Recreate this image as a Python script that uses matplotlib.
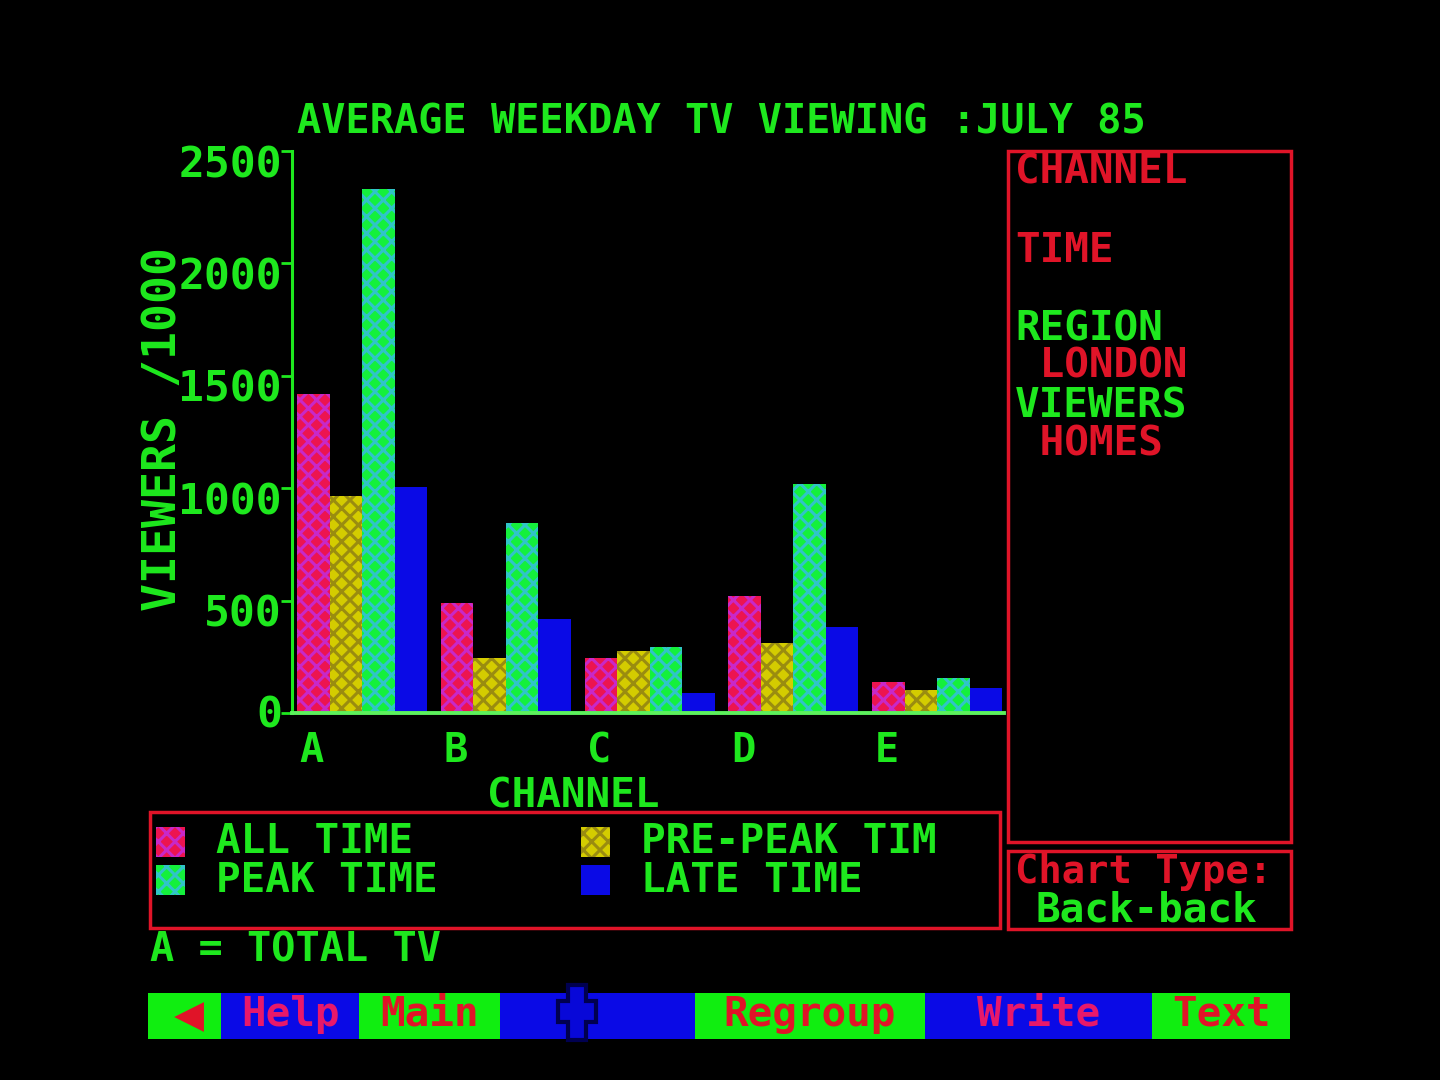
import matplotlib
matplotlib.use("Agg")
import matplotlib.pyplot as plt
from matplotlib.patches import Rectangle, Polygon
from matplotlib.transforms import ScaledTranslation

# ---------------- data ----------------
channels = ["A", "B", "C", "D", "E"]
all_time = [1420, 488, 243, 520, 139]
pre_peak = [967, 243, 277, 310, 102]
peak_time = [2331, 845, 292, 1017, 154]
late_time = [1007, 417, 90, 381, 110]
series_names = ["ALL TIME", "PRE-PEAK TIM", "PEAK TIME", "LATE TIME"]
yticks = [0, 500, 1000, 1500, 2000, 2500]
ytick_labels = ["0", "500", "1000", "1500", "2000", "2500"]
title = "AVERAGE WEEKDAY TV VIEWING :JULY 85"
menu_labels = ["\u25C0", "Help", "Main", "", "Regroup", "Write", "Text"]

# ---------------- style ----------------
W, H = 1440, 1080
GREEN = "#1ee81e"
RED = "#e01428"
PINK = "#e8186a"
BLUE = "#0a0ae6"
MENU_GREEN = "#10ee10"
FONT = ["DejaVu Sans Mono", "DejaVu Sans"]

plt.rcParams["hatch.linewidth"] = 2.2
plt.rcParams["font.family"] = FONT

styles = [
    dict(face="#ec1450", hatch="xx", hcol="#c828c8"),   # all time
    dict(face="#d4cc00", hatch="xx", hcol="#9a8c10"),   # pre-peak
    dict(face="#14f03c", hatch="xx", hcol="#30c4c8"),   # peak
    dict(face=BLUE, hatch=None, hcol=BLUE),             # late
]

fig = plt.figure(figsize=(W / 100, H / 100), dpi=100, facecolor="black")


def fx(x):
    return x / W


def fy(y):
    return 1 - y / H


def ftext(x, ybase, s, color, size, ha="left", weight="bold", **kw):
    fig.text(fx(x), fy(ybase), s, color=color, fontsize=size, ha=ha,
             va="baseline", fontweight=weight, family=FONT, **kw)


def frect(x0, y0, x1, y1, **kw):
    r = Rectangle((fx(x0), fy(y1)), fx(x1) - fx(x0), fy(y0) - fy(y1),
                  transform=fig.transFigure, **kw)
    fig.add_artist(r)
    return r


# ---------------- axes ----------------
ax_l, ax_r, ax_t, ax_b = 292, 1004, 151, 713
ax = fig.add_axes([fx(ax_l), fy(ax_b), fx(ax_r) - fx(ax_l), fy(ax_t) - fy(ax_b)])
ax.set_facecolor("black")

group_px = 143.75
bar_w = 32.5 / group_px
series = [all_time, pre_peak, peak_time, late_time]
for j, (vals, st) in enumerate(zip(series, styles)):
    xs = [i + (j + 0.5) * bar_w for i in range(len(channels))]
    ax.bar(xs, vals, width=bar_w, color=st["face"], edgecolor=st["hcol"],
           linewidth=0, hatch=st["hatch"], zorder=2)

ax.set_xlim((ax_l - 297) / group_px, (ax_r - 297) / group_px)
ax.set_ylim(0, 2500)

for side in ["top", "right"]:
    ax.spines[side].set_visible(False)
ax.spines["left"].set_color(GREEN)
ax.spines["left"].set_linewidth(2.2)
ax.spines["bottom"].set_color("#5cf05c")
ax.spines["bottom"].set_linewidth(2.8)
ax.spines["left"].set_zorder(3)
ax.spines["bottom"].set_zorder(3)

ax.set_yticks(yticks)
ax.set_yticklabels([])
ax.tick_params(axis="y", length=8, width=2, color=GREEN, direction="out")
for v, lab in zip(yticks, ytick_labels):
    dy = -15 if v == 0 else -26
    tr = ax.get_yaxis_transform() + ScaledTranslation(0, dy / 100, fig.dpi_scale_trans)
    ax.text(-10 / (ax_r - ax_l), v, lab, transform=tr, color=GREEN, fontsize=31,
            fontweight="bold", ha="right", va="baseline", family=FONT)

ax.set_xticks([i + 0.104 for i in range(len(channels))])
ax.set_xticklabels(channels)
ax.tick_params(axis="x", length=0, pad=13, labelcolor=GREEN, labelsize=29)
for t in ax.get_xticklabels():
    t.set_fontweight("bold")
    t.set_family(FONT)

# axis labels & title
ftext(721, 133, title, GREEN, 29, ha="center")
ftext(573, 807, "CHANNEL", GREEN, 29.5, ha="center")
fig.text(fx(161 + 15), fy(429), "VIEWERS /1000", color=GREEN, fontsize=33.5,
         fontweight="bold", rotation=90, rotation_mode="anchor",
         ha="center", va="baseline", family=FONT)

# ---------------- legend box ----------------
frect(150, 812, 1000, 928, fill=False, edgecolor=RED, linewidth=2.5)
leg_pos = [(156, 827, 216, 853), (581, 827, 641, 853),
           (156, 865, 216, 892), (581, 865, 641, 892)]
for name, st, (sx, sy, tx, tb) in zip(series_names, styles, leg_pos):
    frect(sx, sy, sx + 29, sy + 30, facecolor=st["face"], edgecolor=st["hcol"],
          linewidth=0, hatch=st["hatch"])
    ftext(tx, tb, name, GREEN, 29.5)

ftext(150, 962, "A = TOTAL TV", GREEN, 29)

# ---------------- right info panel ----------------
frect(1008, 151, 1291, 842, fill=False, edgecolor=RED, linewidth=2.5)
panel = [("CHANNEL", RED, 1015, 183), ("TIME", RED, 1015, 262),
         ("REGION", GREEN, 1015, 340), (" LONDON", RED, 1015, 378),
         ("VIEWERS", GREEN, 1015, 417), (" HOMES", RED, 1015, 455)]
for s, c, x, yb in panel:
    ftext(x, yb, s, c, 29.5)

frect(1008, 851, 1291, 929, fill=False, edgecolor=RED, linewidth=2.5)
ftext(1015, 883, "Chart Type:", RED, 28)
ftext(1036, 922, "Back-back", GREEN, 29.5)

# ---------------- menu bar ----------------
bounds = [148, 221, 359, 500, 695, 925, 1152, 1290]
seg_cols = [MENU_GREEN, BLUE, MENU_GREEN, BLUE, MENU_GREEN, BLUE, MENU_GREEN]
txt_cols = [RED, PINK, RED, RED, RED, PINK, RED]
for k in range(len(seg_cols)):
    frect(bounds[k], 993, bounds[k + 1], 1039, facecolor=seg_cols[k],
          edgecolor="none")
    if menu_labels[k]:
        cx = (bounds[k] + bounds[k + 1]) / 2
        if k == 0:
            ftext(189, 1030, menu_labels[k], txt_cols[k], 36, ha="center",
                  weight="normal")
        else:
            ftext(cx, 1026, menu_labels[k], txt_cols[k], 29.5, ha="center")

# cross cursor glyph on the blue segment
cross = [(568, 985), (586, 985), (586, 1001), (596, 1001), (596, 1022),
         (586, 1022), (586, 1040), (568, 1040), (568, 1022), (558, 1022),
         (558, 1001), (568, 1001)]
fig.add_artist(Polygon([(fx(x), fy(y)) for x, y in cross], closed=True,
                       transform=fig.transFigure, facecolor="#0808d8",
                       edgecolor="#000050", linewidth=3))

fig.savefig("out.png", dpi=100, facecolor="black")
